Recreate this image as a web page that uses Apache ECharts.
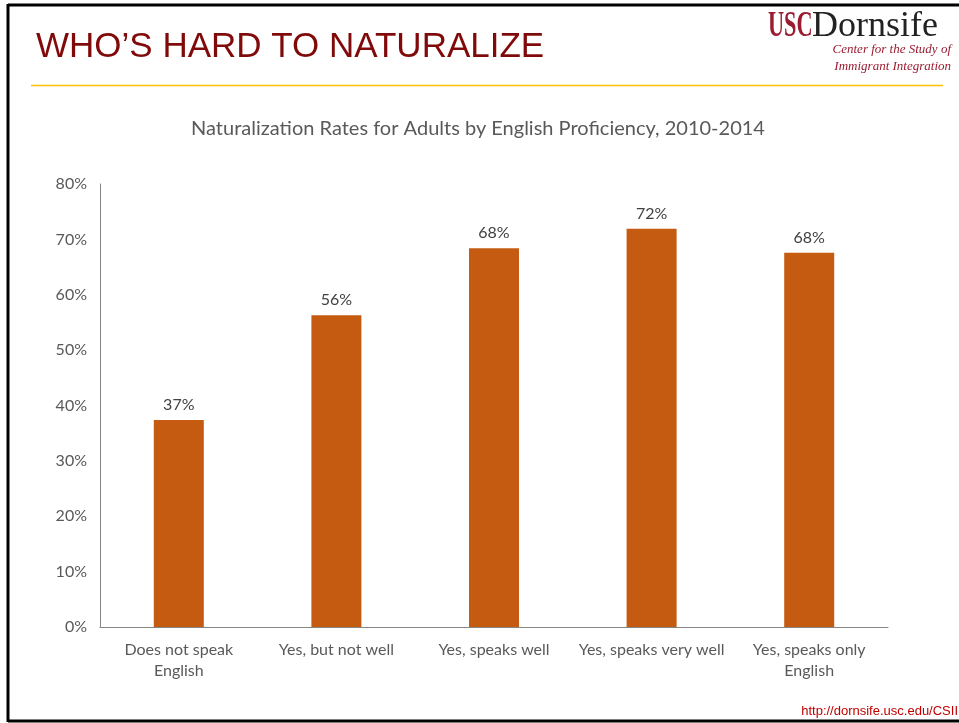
<!DOCTYPE html>
<html>
<head>
<meta charset="utf-8">
<script src="https://cdn.jsdelivr.net/npm/echarts@6/dist/echarts.min.js"></script>
<style>
  html, body { margin: 0; padding: 0; background: #fff; }
  #chart { width: 959px; height: 723px; }
</style>
</head>
<body>
<div id="chart"></div>
<script>
// chart data
const categories = ['Does not speak\nEnglish', 'Yes, but not well', 'Yes, speaks well', 'Yes, speaks very well', 'Yes, speaks only\nEnglish']
const rates = [37.4, 56.3, 68.4, 71.9, 67.6]
const rateLabels = ['37%', '56%', '68%', '72%', '68%']
const yTicks = [0, 10, 20, 30, 40, 50, 60, 70, 80]

const chartFont = 'Lato, "Open Sans", sans-serif'
const myChart = echarts.init(document.getElementById('chart'))

myChart.setOption({
  animation: false,
  title: {
    text: 'Naturalization Rates for Adults by English Proficiency, 2010-2014',
    left: 473,
    top: 114,
    textAlign: 'center',
    textStyle: { fontFamily: chartFont, fontSize: 20, fontWeight: 'normal', color: '#595959' }
  },
  grid: { left: 100, right: 71, top: 184, bottom: 96 },
  xAxis: {
    type: 'category',
    data: categories,
    axisLine: { lineStyle: { color: '#868686', width: 1 } },
    axisTick: { show: false },
    axisLabel: { fontFamily: chartFont, fontSize: 16, color: '#595959', margin: 12, lineHeight: 21, interval: 0 }
  },
  yAxis: {
    type: 'value',
    min: yTicks[0],
    max: yTicks[yTicks.length - 1],
    interval: 10,
    axisLine: { show: true, lineStyle: { color: '#868686', width: 1 } },
    axisTick: { show: false },
    splitLine: { show: false },
    axisLabel: { fontFamily: chartFont, fontSize: 16, color: '#595959', margin: 13, formatter: v => v + '%' }
  },
  series: [{
    type: 'bar',
    data: rates,
    barWidth: 50,
    itemStyle: { color: '#C55A11' },
    label: {
      show: true,
      position: 'top',
      distance: 7,
      fontFamily: chartFont,
      fontSize: 16,
      color: '#404040',
      formatter: p => rateLabels[p.dataIndex]
    }
  }],
  graphic: [
    // slide frame
    { type: 'line', shape: { x1: 8, y1: 5, x2: 959, y2: 5 }, style: { stroke: '#000', lineWidth: 3 } },
    { type: 'line', shape: { x1: 8, y1: 4, x2: 8, y2: 722 }, style: { stroke: '#000', lineWidth: 3 } },
    { type: 'line', shape: { x1: 8, y1: 721, x2: 959, y2: 721 }, style: { stroke: '#000', lineWidth: 3 } },
    // heading
    {
      type: 'text',
      style: { x: 36, y: 47.5, verticalAlign: 'middle', text: 'WHO’S HARD TO NATURALIZE', font: '35px "Liberation Sans", Arial, sans-serif', fill: '#800A0A' }
    },
    { type: 'line', shape: { x1: 31, y1: 85.5, x2: 943, y2: 85.5 }, style: { stroke: '#FFC000', lineWidth: 1.5 } },
    // logo
    {
      type: 'text', x: 768, y: 27, scaleX: 0.62,
      style: { x: 0, y: 0, verticalAlign: 'middle', text: 'USC', font: 'bold 36px "Liberation Serif", serif', fill: '#9B1B30' }
    },
    {
      type: 'text',
      style: { x: 812, y: 27, verticalAlign: 'middle', text: 'Dornsife', font: '36px "Liberation Serif", serif', fill: '#222' }
    },
    {
      type: 'text',
      style: { x: 951, y: 50, align: 'right', verticalAlign: 'middle', text: 'Center for the Study of', font: 'italic 13px "Liberation Serif", serif', fill: '#9B1B30' }
    },
    {
      type: 'text',
      style: { x: 951, y: 67, align: 'right', verticalAlign: 'middle', text: 'Immigrant Integration', font: 'italic 13px "Liberation Serif", serif', fill: '#9B1B30' }
    },
    // footer url
    {
      type: 'text',
      style: { x: 958, y: 711, align: 'right', verticalAlign: 'middle', text: 'http://dornsife.usc.edu/CSII', font: '13px "Liberation Sans", sans-serif', fill: '#C00000' }
    }
  ]
})
</script>
</body>
</html>
